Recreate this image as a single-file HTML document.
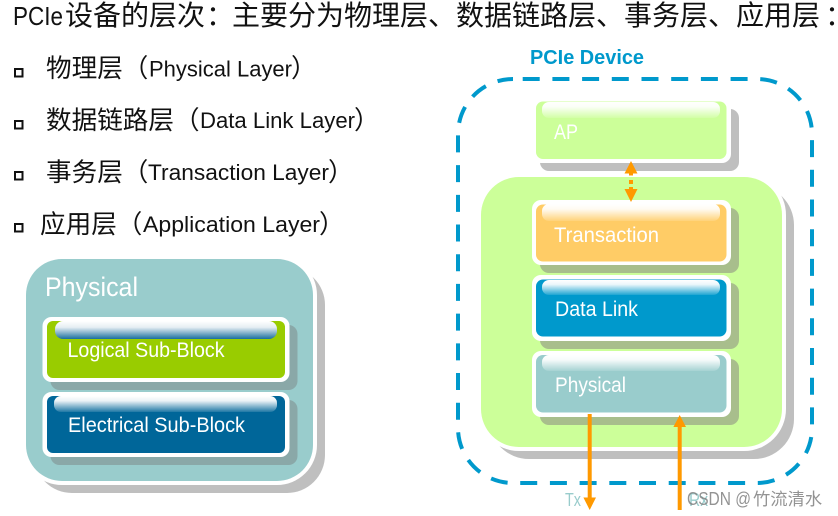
<!DOCTYPE html>
<html><head><meta charset="utf-8">
<style>
html,body{margin:0;padding:0;background:#fff;width:838px;height:516px;overflow:hidden}
svg{display:block}
text{font-family:"Liberation Sans","Noto Sans CJK SC",sans-serif}
.c{font-family:"Noto Sans CJK SC","Liberation Sans",sans-serif;font-size:25.6px;fill:#111}
.t{font-family:"Noto Sans CJK SC","Liberation Sans",sans-serif;font-size:28px;fill:#111}
.l{font-size:22px;fill:#111}
.w{fill:#fff;font-size:21px}
</style></head><body>
<svg width="838" height="516" viewBox="0 0 838 516" xmlns="http://www.w3.org/2000/svg">
<defs>
<linearGradient id="gb" x1="0" y1="0" x2="0" y2="1"><stop offset="0" stop-color="#fff"/><stop offset=".35" stop-color="#e6eef3"/><stop offset="1" stop-color="#1a6f9f"/></linearGradient>
<linearGradient id="gw" x1="0" y1="0" x2="0" y2="1"><stop offset="0" stop-color="#fff"/><stop offset=".3" stop-color="#fff" stop-opacity=".92"/><stop offset="1" stop-color="#fff" stop-opacity=".12"/></linearGradient>
</defs>

<text x="13" y="25" font-size="26" fill="#111" textLength="50" lengthAdjust="spacingAndGlyphs">PCIe</text>
<text class="t" x="65" y="25">设备的层次</text>
<text class="t" x="206" y="25">：</text>
<text class="t" x="232" y="25">主要分为物理层、数据链路层、事务层、应用层</text>
<text class="t" x="825" y="25">：</text>

<g fill="#fff" stroke="#111" stroke-width="2">
<rect x="15" y="69" width="7.5" height="7.5"/>
<rect x="15" y="121" width="7.5" height="7.5"/>
<rect x="15" y="172" width="7.5" height="7.5"/>
<rect x="15" y="224" width="7.5" height="7.5"/>
</g>

<text class="c" x="46" y="77">物理层（</text>
<text class="l" x="149" y="76.500" textLength="143" lengthAdjust="spacingAndGlyphs">Physical Layer</text>
<text class="c" x="291" y="77">）</text>

<text class="c" x="46" y="129">数据链路层（</text>
<text class="l" x="200" y="128" textLength="155" lengthAdjust="spacingAndGlyphs">Data Link Layer</text>
<text class="c" x="354" y="129">）</text>

<text class="c" x="46" y="181">事务层（</text>
<text class="l" x="148" y="180" textLength="181" lengthAdjust="spacingAndGlyphs">Transaction Layer</text>
<text class="c" x="328" y="181">）</text>

<text class="c" x="40" y="233">应用层（</text>
<text class="l" x="143" y="232" textLength="177" lengthAdjust="spacingAndGlyphs">Application Layer</text>
<text class="c" x="319" y="233">）</text>

<!-- Left Physical block -->
<rect x="34" y="267" width="291" height="226" rx="38" fill="#bfbfbf"/>
<rect x="22" y="255" width="295" height="230" rx="40" fill="#fff"/>
<rect x="26" y="259" width="287" height="222" rx="36" fill="#99cccc"/>
<text x="45" y="296" font-size="27" fill="#fff" textLength="93" lengthAdjust="spacingAndGlyphs">Physical</text>

<rect x="50.500" y="325" width="247" height="65" rx="9" fill="#8aa8a8"/>
<rect x="42.500" y="317" width="247" height="65" rx="9" fill="#fff"/>
<rect x="47" y="321" width="238" height="57" rx="6" fill="#99cc00"/>
<rect x="55" y="321" width="222" height="18" rx="8" fill="url(#gb)"/>
<text class="w" x="67.500" y="357" textLength="157" lengthAdjust="spacingAndGlyphs">Logical Sub-Block</text>

<rect x="50.500" y="400" width="247" height="65" rx="9" fill="#8aa8a8"/>
<rect x="42.500" y="392" width="247" height="65" rx="9" fill="#fff"/>
<rect x="47" y="396" width="238" height="57" rx="6" fill="#006699"/>
<rect x="54" y="396" width="223" height="16" rx="7" fill="url(#gw)"/>
<text class="w" x="68" y="432" textLength="177" lengthAdjust="spacingAndGlyphs">Electrical Sub-Block</text>

<!-- Right -->
<text x="530" y="64" font-size="20" font-weight="bold" fill="#0099cc" textLength="114" lengthAdjust="spacingAndGlyphs">PCIe Device</text>
<rect x="458" y="79" width="354" height="404" rx="55" fill="none" stroke="#0099cc" stroke-width="4" stroke-dasharray="17 12.700" stroke-dashoffset="20"/>

<!-- AP -->
<rect x="540" y="109" width="199" height="62" rx="9" fill="#bfbfbf"/>
<rect x="532" y="97" width="199" height="66" rx="9" fill="#fff"/>
<rect x="536" y="101.500" width="190.500" height="57.500" rx="7" fill="#ccff99"/>
<rect x="542" y="102" width="178" height="16" rx="7" fill="url(#gw)"/>
<text class="w" x="554" y="139" textLength="24" lengthAdjust="spacingAndGlyphs">AP</text>

<!-- Big green -->
<rect x="489" y="185" width="305" height="274" rx="40" fill="#bfbfbf"/>
<rect x="477" y="173" width="309" height="278" rx="42" fill="#fff"/>
<rect x="481" y="177" width="301" height="270" rx="38" fill="#ccff99"/>

<!-- Transaction -->
<rect x="540" y="208" width="199" height="65" rx="9" fill="#a8be8c"/>
<rect x="532" y="200" width="199" height="65" rx="9" fill="#fff"/>
<rect x="536" y="204.500" width="190.500" height="57" rx="7" fill="#ffcc66"/>
<rect x="542" y="204" width="178" height="17" rx="7" fill="url(#gw)"/>
<text class="w" x="554" y="242" textLength="105" lengthAdjust="spacingAndGlyphs">Transaction</text>

<!-- Data Link -->
<rect x="540" y="283" width="199" height="66" rx="9" fill="#a8be8c"/>
<rect x="532" y="275" width="199" height="66" rx="9" fill="#fff"/>
<rect x="536" y="279.500" width="190.500" height="57" rx="7" fill="#0099cc"/>
<rect x="542" y="280" width="178" height="15" rx="7" fill="url(#gw)"/>
<text class="w" x="555" y="316" textLength="83" lengthAdjust="spacingAndGlyphs">Data Link</text>

<!-- Physical -->
<rect x="540" y="359" width="199" height="66" rx="9" fill="#a8be8c"/>
<rect x="532" y="351" width="199" height="66" rx="9" fill="#fff"/>
<rect x="536" y="355" width="190.500" height="57.500" rx="7" fill="#99cccc"/>
<rect x="542" y="355" width="178" height="16" rx="7" fill="url(#gw)"/>
<text class="w" x="555" y="392" textLength="71" lengthAdjust="spacingAndGlyphs">Physical</text>

<!-- AP arrow -->
<g fill="#ff9900">
<polygon points="631,161 637.500,173.500 624.500,173.500"/>
<rect x="629" y="173" width="4" height="2.500"/>
<rect x="629" y="180" width="4" height="4"/>
<rect x="629" y="187" width="4" height="2.500"/>
<polygon points="631,202 637.500,189 624.500,189"/>
<!-- Tx -->
<rect x="587.700" y="414" width="4" height="85"/>
<polygon points="589.700,510 596,497.500 583.400,497.500"/>
<!-- Rx -->
<rect x="677.700" y="426" width="4" height="84"/>
<polygon points="679.700,415 686,427 673.400,427"/>
</g>

<text x="565" y="506" font-size="18" fill="#99cccc" textLength="16" lengthAdjust="spacingAndGlyphs">Tx</text>
<text x="689" y="506" font-size="18" fill="#99cccc" textLength="19" lengthAdjust="spacingAndGlyphs">Rx</text>
<text x="687" y="505" font-size="18" fill="#808080" fill-opacity=".85" textLength="64" lengthAdjust="spacingAndGlyphs">CSDN @</text>
<text x="753" y="505" font-size="17.300" fill="#808080" fill-opacity=".85">竹流清水</text>
</svg>
</body></html>
